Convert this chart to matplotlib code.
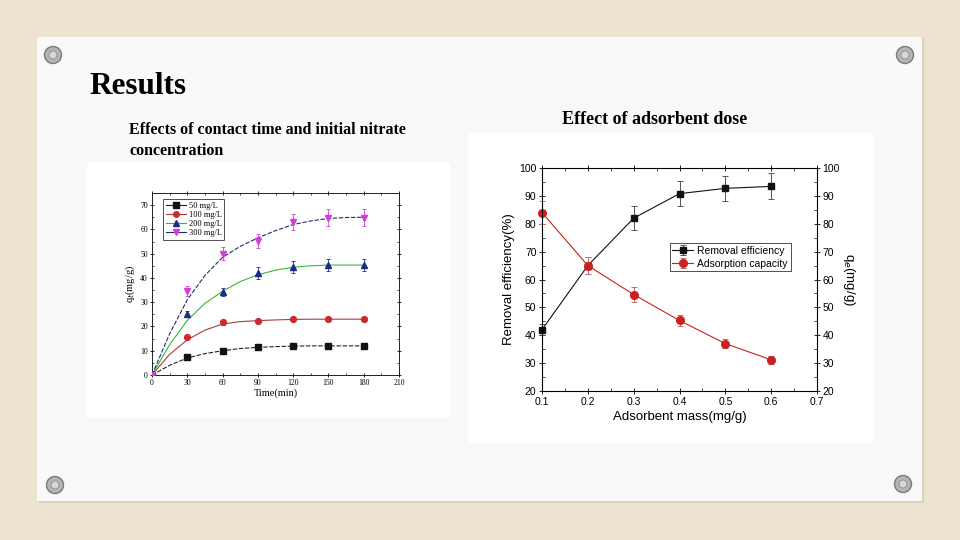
import matplotlib
matplotlib.use("Agg")
import matplotlib.pyplot as plt
from matplotlib.patches import Rectangle, Ellipse
from matplotlib.ticker import MultipleLocator

# data: contact time (left chart)
t = [0, 30, 60, 90, 120, 150, 180]
q50 = [0, 7.5, 10.0, 11.7, 12.0, 12.0, 12.0]
q100 = [0, 15.8, 21.7, 22.3, 23.0, 23.0, 23.0]
q200 = [0, 25.0, 34.2, 42.0, 44.5, 45.3, 45.3]
q300 = [0, 34.5, 50.0, 55.3, 63.0, 64.8, 64.8]
e50 = [0, 0.6, 0.6, 0.6, 0.6, 0.6, 0.6]
e100 = [0, 0.8, 1.0, 0.8, 0.8, 0.8, 0.8]
e200 = [0, 1.3, 1.5, 2.5, 2.5, 2.5, 2.5]
e300 = [0, 2.0, 2.8, 2.8, 3.3, 3.5, 3.5]
# fitted curves
t_fit = [0, 15, 30, 45, 60, 75, 90, 105, 120, 135, 150, 165, 180]
f50 = [0, 4.0, 7.0, 8.8, 10.0, 10.9, 11.4, 11.7, 11.9, 12.0, 12.0, 12.0, 12.0]
f100 = [0, 8.5, 14.5, 18.5, 21.0, 22.0, 22.4, 22.7, 22.9, 23.0, 23.0, 23.0, 23.0]
f200 = [0, 12.5, 22.5, 29.5, 34.5, 38.5, 41.3, 43.2, 44.4, 45.0, 45.3, 45.3, 45.3]
f300 = [0, 17.0, 31.0, 41.0, 48.5, 53.0, 56.5, 59.5, 62.0, 63.5, 64.5, 64.9, 65.0]
labels_left = ["50 mg/L", "100 mg/L", "200 mg/L", "300 mg/L"]

# data: adsorbent dose (right chart)
dose = [0.1, 0.2, 0.3, 0.4, 0.5, 0.6]
removal = [42.0, 65.0, 82.0, 90.8, 92.7, 93.4]
removal_err = [2.0, 3.0, 4.2, 4.6, 4.5, 4.7]
capacity = [84.0, 65.0, 54.6, 45.3, 37.0, 31.2]
capacity_err = [4.0, 3.2, 2.8, 2.0, 1.7, 1.5]

W, H = 960, 540
fig = plt.figure(figsize=(9.6, 5.4), dpi=100)
fig.patch.set_facecolor("#ece4cf")


def rect(x0, y0, x1, y1):
    # pixel box (top-left origin) -> figure fraction
    return [x0 / W, 1 - y1 / H, (x1 - x0) / W, (y1 - y0) / H]


# slide card
fig.patches.append(Rectangle((39 / W, 1 - 503 / H), 885 / W, 465 / H, transform=fig.transFigure,
                             facecolor="#d9d2c0", edgecolor="none", zorder=0))
fig.patches.append(Rectangle((37 / W, 1 - 501 / H), 885 / W, 464 / H, transform=fig.transFigure,
                             facecolor="#f9f9f9", edgecolor="none", zorder=0))
for cx, cy in [(53, 55), (905, 55), (55, 485), (903, 484)]:
    fig.patches.append(Ellipse((cx / W, 1 - cy / H), 17 / W, 17 / H, transform=fig.transFigure,
                               facecolor="#b5b5b5", edgecolor="#7a7a7a", lw=1, zorder=1))
    fig.patches.append(Ellipse((cx / W, 1 - cy / H), 8 / W, 8 / H, transform=fig.transFigure,
                               facecolor="#dcd8cc", edgecolor="#8c8c8c", lw=0.6, zorder=1))

# chart image backdrops
fig.patches.append(Rectangle((87 / W, 1 - 417 / H), 363 / W, 254 / H, transform=fig.transFigure,
                             facecolor="white", edgecolor="none", zorder=1))
fig.patches.append(Rectangle((468 / W, 1 - 443 / H), 405 / W, 310 / H, transform=fig.transFigure,
                             facecolor="white", edgecolor="none", zorder=1))

# slide texts
fig.text(89 / W, 1 - 86 / H, "Results", fontsize=22.5, fontweight="bold", family="Liberation Serif",
         va="center", ha="left")
fig.text(129 / W, 1 - 130 / H, "Effects of contact time and initial nitrate", fontsize=11.5,
         fontweight="bold", family="Liberation Serif", va="center", ha="left")
fig.text(129 / W, 1 - 151 / H, "concentration", fontsize=11.5,
         fontweight="bold", family="Liberation Serif", va="center", ha="left")
fig.text(562 / W, 1 - 119 / H, "Effect of adsorbent dose", fontsize=13, fontweight="bold",
         family="Liberation Serif", va="center", ha="left")

# ---- left chart ----
ax1 = fig.add_axes(rect(152, 193, 399, 375))
ax1.set_zorder(5)
ax1.set_facecolor("white")
series = [
    (q50, e50, f50, "s", "#111111", "#222222", (0, (4, 1.5))),
    (q100, e100, f100, "o", "#cc2b2b", "#b03a3a", "-"),
    (q200, e200, f200, "^", "#1c2a8a", "#33bb33", "-"),
    (q300, e300, f300, "v", "#d040d8", "#1f2d6e", (0, (4, 1.5))),
]
for (q, e, f, m, mc, lc, ls), lab in zip(series, labels_left):
    ax1.plot(t_fit, f, color=lc, lw=0.8, ls=ls, zorder=2)
    ax1.errorbar(t, q, yerr=e, fmt=m, ms=4.2, color=mc, ecolor=mc, elinewidth=0.6, capsize=1.5,
                 capthick=0.6, zorder=3)
    ax1.plot([], [], color=lc, lw=0.8, marker=m, ms=4, mfc=mc, mec=mc, label=lab)
ax1.set_xlim(0, 210)
ax1.set_ylim(0, 75)
ax1.set_xticks(range(0, 211, 30))
ax1.set_yticks(range(0, 71, 10))
ax1.xaxis.set_minor_locator(MultipleLocator(15))
ax1.yaxis.set_minor_locator(MultipleLocator(5))
ax1.tick_params(which="major", labelsize=5.5, length=3, width=0.6, direction="inout", top=True,
                right=True, labelfontfamily="Liberation Serif", pad=1.5)
ax1.tick_params(which="minor", length=1.5, width=0.5, direction="in", top=True, right=True)
ax1.set_xlabel("Time(min)", fontsize=7.5, family="Liberation Serif", labelpad=1)
ax1.set_ylabel("q$_t$(mg/g)", fontsize=7.5, family="Liberation Serif", labelpad=2)
for s in ax1.spines.values():
    s.set_linewidth(0.6)
leg1 = ax1.legend(loc="upper left", frameon=True, fancybox=False, edgecolor="black",
                  prop={"family": "Liberation Serif", "size": 6}, handlelength=2.4,
                  borderpad=0.35, labelspacing=0.12, handletextpad=0.3,
                  bbox_to_anchor=(0.045, 0.967), borderaxespad=0)
leg1.get_frame().set_linewidth(0.6)

# ---- right chart ----
ax2 = fig.add_axes(rect(542, 168, 817, 391))
ax2.set_zorder(5)
ax2.set_facecolor("white")
ax2.errorbar(dose, removal, yerr=removal_err, fmt="-s", color="#111111", ms=5, lw=0.8,
             ecolor="#555555", elinewidth=0.7, capsize=2, capthick=0.7, label="Removal efficiency",
             zorder=3, clip_on=False)
ax2.errorbar(dose, capacity, yerr=capacity_err, fmt="-o", color="#cc2020", ms=5.5, lw=0.8,
             ecolor="#c07070", elinewidth=0.7, capsize=2, capthick=0.7, label="Adsorption capacity",
             zorder=3, clip_on=False)
ax2.set_xlim(0.1, 0.7)
ax2.set_ylim(20, 100)
ax2.set_xticks([0.1, 0.2, 0.3, 0.4, 0.5, 0.6, 0.7])
ax2.set_yticks(range(20, 101, 10))
ax2.xaxis.set_minor_locator(MultipleLocator(0.05))
ax2.yaxis.set_minor_locator(MultipleLocator(5))
ax2.tick_params(which="major", labelsize=7.5, length=4, width=0.6, direction="inout", top=True,
                labelfontfamily="Liberation Sans", pad=2)
ax2.tick_params(which="minor", length=2, width=0.5, direction="in", top=True)
ax2.set_xlabel("Adsorbent mass(mg/g)", fontsize=9.5, family="Liberation Sans", labelpad=3)
ax2.set_ylabel("Removal efficiency(%)", fontsize=9.5, family="Liberation Sans", labelpad=3)
for s in ax2.spines.values():
    s.set_linewidth(0.6)
ax2r = ax2.twinx()
ax2r.set_zorder(6)
ax2r.patch.set_visible(False)
ax2r.set_ylim(20, 100)
ax2r.set_yticks(range(20, 101, 10))
ax2r.yaxis.set_minor_locator(MultipleLocator(5))
ax2r.tick_params(which="major", labelsize=7.5, length=4, width=0.6, direction="inout",
                 labelfontfamily="Liberation Sans", pad=2)
ax2r.tick_params(which="minor", length=2, width=0.5, direction="in")
ax2r.set_ylabel("q$_e$(mg/g)", fontsize=9.5, family="Liberation Sans", rotation=270, labelpad=12)
leg2 = ax2.legend(loc="upper left", bbox_to_anchor=(0.465, 0.664), frameon=True,
                  fancybox=False, edgecolor="black", prop={"family": "Liberation Sans", "size": 7.5},
                  handlelength=2.0, borderpad=0.25, labelspacing=0.3, handletextpad=0.4,
                  borderaxespad=0)
leg2.get_frame().set_linewidth(0.6)

fig.savefig("out.png", dpi=100, facecolor=fig.get_facecolor())
